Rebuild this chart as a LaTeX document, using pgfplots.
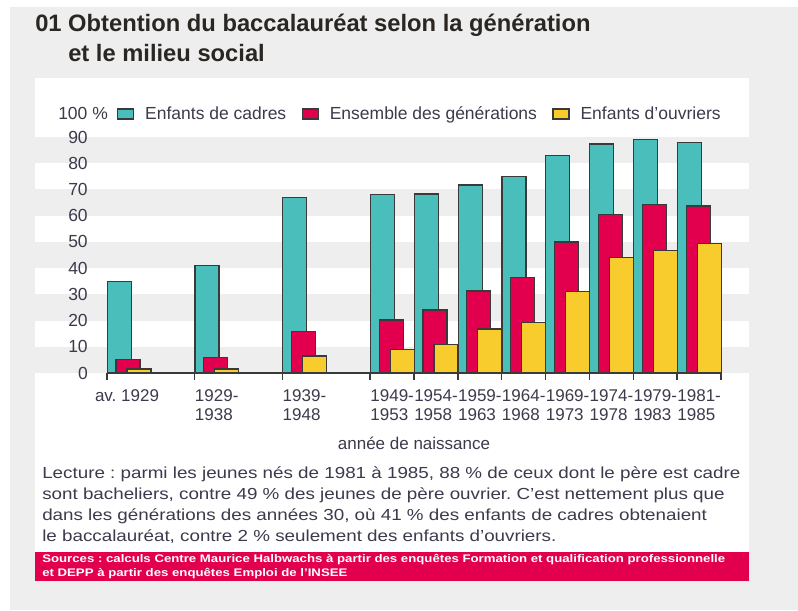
\documentclass[border=0pt]{standalone}
\usepackage{fontspec}
\setmainfont{Liberation Sans}
\newfontfamily\bodyfont[FakeStretch=1.175]{Liberation Sans}
\newfontfamily\srcfont[FakeStretch=1.2]{Liberation Sans}
\usepackage{pgfplots}
\pgfplotsset{compat=1.18}
\definecolor{bg}{HTML}{EDEEED}
\definecolor{cteal}{HTML}{49BEBB}
\definecolor{cred}{HTML}{E2004E}
\definecolor{cyel}{HTML}{F8CC2C}
\definecolor{edge}{HTML}{3A3A3A}
\definecolor{txt}{HTML}{3C3B4C}
\definecolor{ttl}{HTML}{2A2623}
\pgfplotsset{lgd/.style={legend image code/.code={\draw[##1, line width=0.9pt] (0pt,-3.75pt) rectangle (12pt,3.75pt);}}}
\frenchspacing
\begin{document}
\frenchspacing
\begin{tikzpicture}
\begin{scope}[x=0.75pt,y=-0.75pt]
\fill[white] (0,0) rectangle (798,610);
\useasboundingbox (0,0) rectangle (798,610);
\fill[bg] (10,7) rectangle (798,610);
\fill[white] (35,78) rectangle (749,581);
\foreach \a/\b in {373/346.78, 320.56/294.33, 268.11/241.89, 215.67/189.44, 163.22/137}{\fill[bg] (35,\a) rectangle (749,\b);}
\fill[cred] (35,552) rectangle (749,581);
\node[anchor=base west, inner sep=0pt, text=ttl, font=\bfseries\fontsize{17.8pt}{20pt}\selectfont] at (35,32) {01 Obtention du baccalauréat selon la génération};
\node[anchor=base west, inner sep=0pt, text=ttl, font=\bfseries\fontsize{17.8pt}{20pt}\selectfont] at (68,61) {et le milieu social};
\node[anchor=base west, inner sep=0pt, text=txt, font=\fontsize{13.125pt}{15pt}\selectfont] at (58,119) {100~\%};
\node[anchor=base west, inner sep=0pt, text=txt, font=\bodyfont\fontsize{12pt}{16pt}\selectfont] at (42,478) {Lecture : parmi les jeunes nés de 1981 à 1985, 88 \% de ceux dont le père est cadre};
\node[anchor=base west, inner sep=0pt, text=txt, font=\bodyfont\fontsize{12pt}{16pt}\selectfont] at (42,499.3) {sont bacheliers, contre 49 \% des jeunes de père ouvrier. C’est nettement plus que};
\node[anchor=base west, inner sep=0pt, text=txt, font=\bodyfont\fontsize{12pt}{16pt}\selectfont] at (42,520.6) {dans les générations des années 30, où 41 \% des enfants de cadres obtenaient};
\node[anchor=base west, inner sep=0pt, text=txt, font=\bodyfont\fontsize{12pt}{16pt}\selectfont] at (42,541.9) {le baccalauréat, contre 2 \% seulement des enfants d’ouvriers.};
\node[anchor=base west, inner sep=0pt, text=white, font=\srcfont\bfseries\fontsize{8.25pt}{10pt}\selectfont] at (42,562.5) {Sources : calculs Centre Maurice Halbwachs à partir des enquêtes Formation et qualification professionnelle};
\node[anchor=base west, inner sep=0pt, text=white, font=\srcfont\bfseries\fontsize{8.25pt}{10pt}\selectfont] at (42,576.5) {et DEPP à partir des enquêtes Emploi de l’INSEE};
\end{scope}
\begin{axis}[
  at={(80.25pt,-279.75pt)}, anchor=south west,
  scale only axis, width=460.5pt, height=177pt,
  xmin=0, xmax=14, ymin=0, ymax=90,
  clip=false,
  axis x line*=bottom, axis y line*=left,
  y axis line style={draw=none},
  x axis line style={draw=edge, line width=1.2pt, -},
  tick align=outside,
  major tick length=5.25pt,
  xtick={0,2,4,6,7,8,9,10,11,12,13,14},
  xticklabels={{},{1929-\\1938},{1939-\\1948},{1949-\\1953},{1954-\\1958},{1959-\\1963},{1964-\\1968},{1969-\\1973},{1974-\\1978},{1979-\\1983},{1981-\\1985},{}},
  extra x ticks={0}, extra x tick labels={av. 1929},
  extra x tick style={xticklabel style={anchor=north, xshift=15pt}},
  xtick style={draw=edge, line width=1.1pt},
  xticklabel style={anchor=north west, align=left, inner sep=0pt, font=\fontsize{12.75pt}{14.25pt}\selectfont, text=txt, yshift=-6.75pt},
  ytick={0,10,...,90},
  ytick style={draw=none},
  yticklabel style={anchor=east, inner sep=0pt, font=\fontsize{13.125pt}{15pt}\selectfont, text=txt, xshift=-9pt},
  /pgf/number format/assume math mode=true,
  xlabel={année de naissance},
  xlabel style={at={(axis description cs:0.5,-0.2966)}, anchor=center, font=\fontsize{12.75pt}{15pt}\selectfont, text=txt},
  ybar, bar width=18pt,
  legend columns=3,
  legend style={at={(axis description cs:0.0163,1.0975)}, anchor=west,
    draw=none, fill=none, inner sep=0pt, outer sep=0pt,
    font=\fontsize{13.125pt}{15pt}\selectfont, text=txt,
    nodes={inner sep=0pt},
    /tikz/every odd column/.append style={column sep=8.25pt},
    /tikz/every even column/.append style={column sep=11.5pt}},
]
\addplot[fill=cteal, draw=edge, line width=0.9pt, bar shift=9.2pt, lgd] coordinates {
 (0,35) (2,41) (4,67) (6,68) (7,68.3) (8,71.7) (9,74.9) (10,82.8) (11,87.3) (12,89.2) (13,88)};
\addlegendentry{Enfants de cadres}
\addplot[fill=cred, draw=edge, line width=0.9pt, bar shift=15.75pt, lgd] coordinates {
 (0,5.2) (2,5.8) (4,15.8) (6,20.2) (7,24) (8,31.3) (9,36.5) (10,50) (11,60.5) (12,64.4) (13,63.7)};
\addlegendentry{Ensemble des générations}
\addplot[fill=cyel, draw=edge, line width=0.9pt, bar shift=24pt, lgd] coordinates {
 (0,1.5) (2,1.5) (4,6.5) (6,9) (7,11) (8,16.8) (9,19.4) (10,31.1) (11,44.2) (12,46.8) (13,49.5)};
\addlegendentry{Enfants d’ouvriers}
\end{axis}
\end{tikzpicture}
\end{document}
